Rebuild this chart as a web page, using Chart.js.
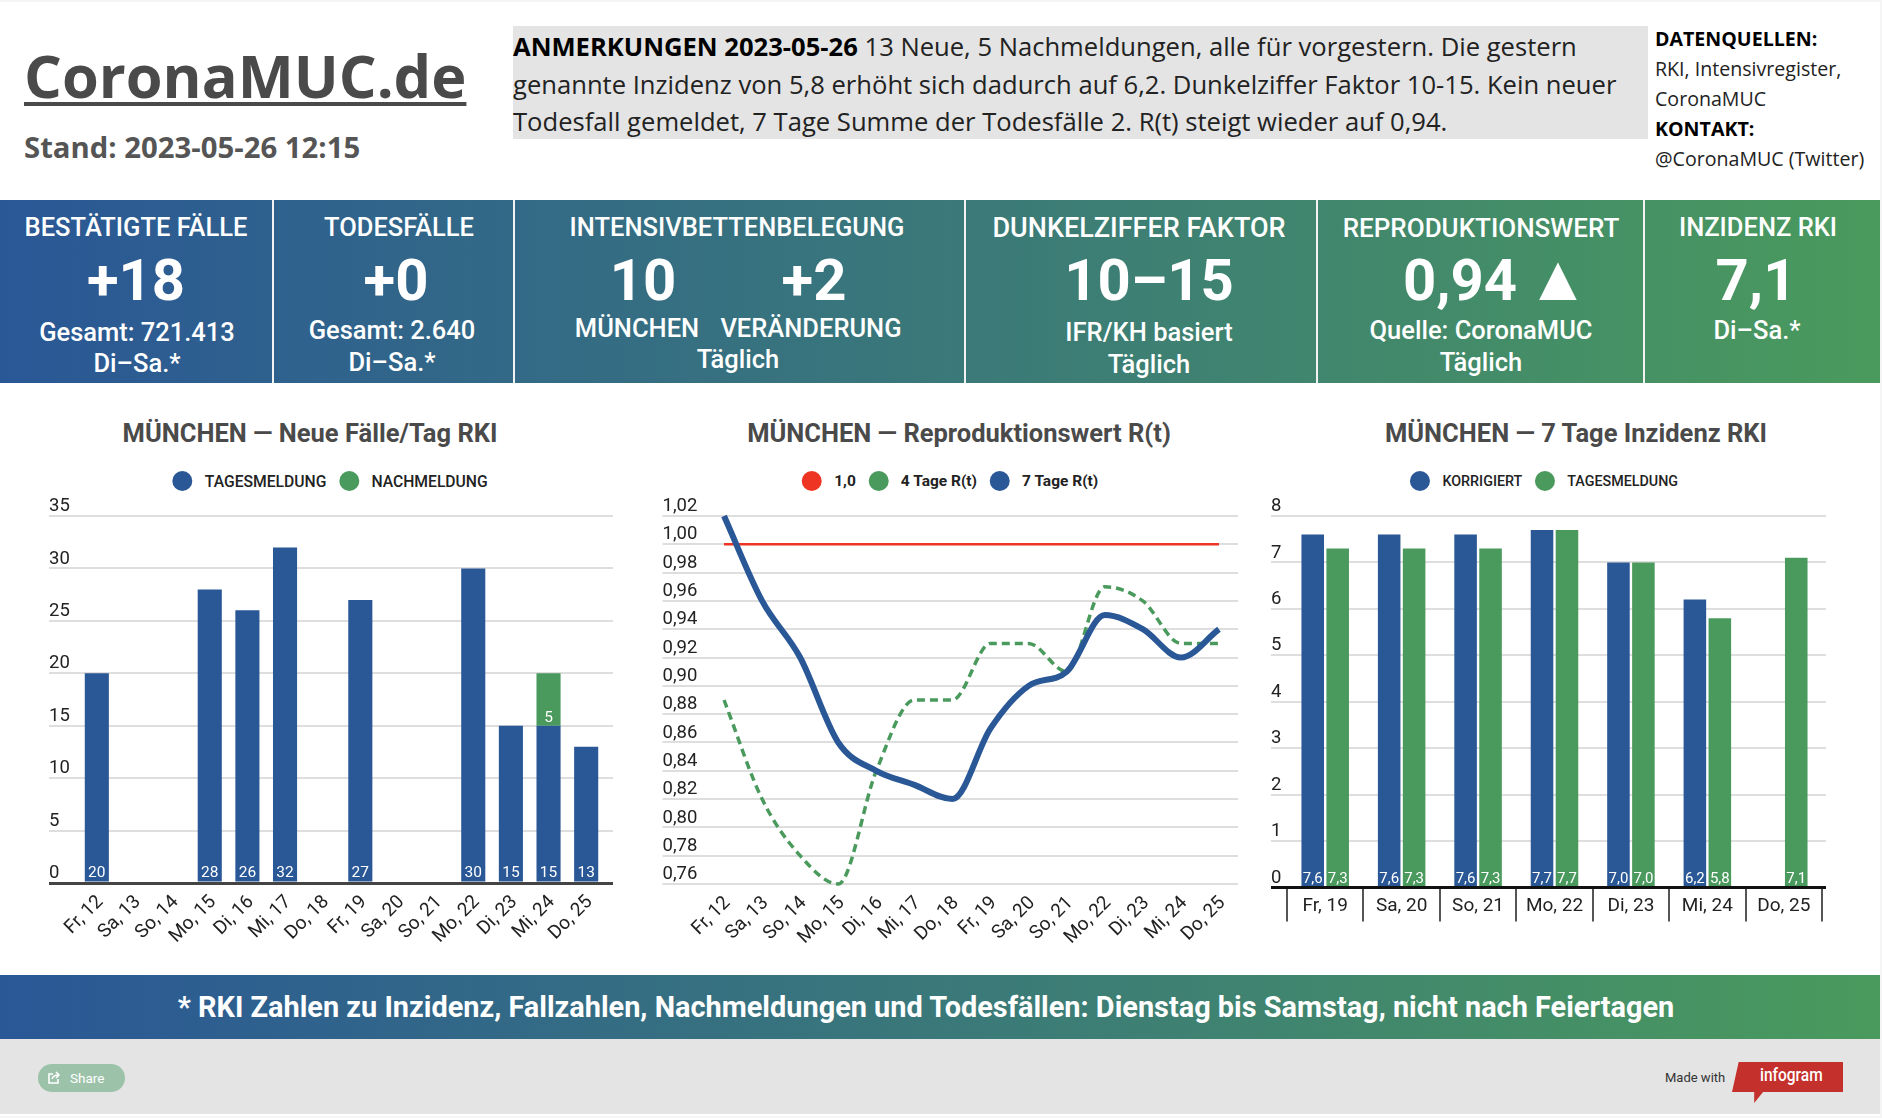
<!DOCTYPE html>
<html lang="de">
<head>
<meta charset="utf-8">
<title>CoronaMUC.de</title>
<script src="https://cdn.jsdelivr.net/npm/chart.js@4"></script>
<style>
  html, body { margin: 0; padding: 0; background: #f5f5f5; }
  #page { position: relative; width: 1880px; height: 1114px; margin-top: 2px; background: #fff; overflow: hidden; font-family: Roboto, sans-serif; }
  .abs { position: absolute; white-space: nowrap; }
  .c { position: absolute; white-space: nowrap; transform: translate(-50%, -50%); color: #fff; }
  .ttl { font-size: 25.5px; font-weight: 500; }
  .big { font-size: 58px; font-weight: 700; }
  .sub { font-size: 25.5px; font-weight: 500; }
  #panels { position: absolute; left: 0; top: 198px; width: 1880px; height: 183px; background: linear-gradient(90deg, #2a5796, #4a9a5d); }
  .sep { position: absolute; top: 0; width: 2px; height: 183px; background: #f2f2f2; }
  #band { position: absolute; left: 0; top: 973px; width: 1880px; height: 64px; background: linear-gradient(90deg, #2a5796, #4a9a5d); }
  #foot { position: absolute; left: 0; top: 1037px; width: 1880px; height: 75px; background: #e4e4e4; }
  canvas { position: absolute; }
  .chart-title { position: absolute; top: 414px; transform: translateX(-50%); font-size: 25.5px; font-weight: 700; color: #4a4a4a; white-space: nowrap; line-height: 34px; }
  .legend { position: absolute; top: 469px; transform: translateX(-50%); display: flex; align-items: center; height: 20px; white-space: nowrap; color: #222; font-weight: 500; }
  .legend i { display: block; width: 20px; height: 20px; border-radius: 50%; margin-right: 12.5px; }
  .legend span { margin-right: 12.5px; }
  .legend span:last-child { margin-right: 0; }
</style>
</head>
<body>
<div id="page">
  <div class="abs" style="left:24px;top:33px;font:700 59.5px/80px 'Open Sans';color:#4a4a4a;text-decoration:underline;text-decoration-thickness:4px;text-underline-offset:4px;">CoronaMUC.de</div>
  <div class="abs" style="left:24px;top:125px;font:700 29.3px/40px 'Open Sans';color:#555;">Stand: 2023-05-26 12:15</div>
  <div class="abs" style="left:513px;top:24px;width:1135px;height:113px;background:#e4e4e4;"></div>
  <div class="abs" style="left:513px;top:26px;font:400 25.6px/37.5px 'Open Sans';color:#222;"><b style="color:#000">ANMERKUNGEN 2023-05-26</b> 13 Neue, 5 Nachmeldungen, alle für vorgestern. Die gestern<br>genannte Inzidenz von 5,8 erhöht sich dadurch auf 6,2. Dunkelziffer Faktor 10-15. Kein neuer<br>Todesfall gemeldet, 7 Tage Summe der Todesfälle 2. R(t) steigt wieder auf 0,94.</div>
  <div class="abs" style="left:1655px;top:22px;font:400 19.6px/30px 'Open Sans';color:#222;"><b style="color:#000">DATENQUELLEN:</b><br>RKI, Intensivregister,<br>CoronaMUC<br><b style="color:#000">KONTAKT:</b><br>@CoronaMUC (Twitter)</div>

  <div id="panels">
    <div class="sep" style="left:272px"></div><div class="sep" style="left:513px"></div><div class="sep" style="left:964px"></div><div class="sep" style="left:1316px"></div><div class="sep" style="left:1643px"></div>
    <div class="c ttl" style="left:136px;top:27px">BESTÄTIGTE FÄLLE</div>
    <div class="c big" style="left:136px;top:80px">+18</div>
    <div class="c sub" style="left:137px;top:132px">Gesamt: 721.413</div>
    <div class="c sub" style="left:137px;top:163px">Di–Sa.*</div>
    <div class="c ttl" style="left:399px;top:27px">TODESFÄLLE</div>
    <div class="c big" style="left:396px;top:80px">+0</div>
    <div class="c sub" style="left:392px;top:130px">Gesamt: 2.640</div>
    <div class="c sub" style="left:392px;top:162px">Di–Sa.*</div>
    <div class="c ttl" style="left:737px;top:27px">INTENSIVBETTENBELEGUNG</div>
    <div class="c big" style="left:643px;top:80px">10</div>
    <div class="c big" style="left:814px;top:80px">+2</div>
    <div class="c sub" style="left:637px;top:128px">MÜNCHEN</div>
    <div class="c sub" style="left:811px;top:128px">VERÄNDERUNG</div>
    <div class="c sub" style="left:738px;top:159px">Täglich</div>
    <div class="c ttl" style="left:1139px;top:28px;font-size:27px">DUNKELZIFFER FAKTOR</div>
    <div class="c big" style="left:1149px;top:80px">10–15</div>
    <div class="c sub" style="left:1149px;top:132px">IFR/KH basiert</div>
    <div class="c sub" style="left:1149px;top:164px">Täglich</div>
    <div class="c ttl" style="left:1481px;top:28px;font-size:26px">REPRODUKTIONSWERT</div>
    <div class="c big" style="left:1460px;top:80px">0,94</div>
    <div class="c big" style="left:1558px;top:78px;font-size:64px">▲</div>
    <div class="c sub" style="left:1481px;top:130px">Quelle: CoronaMUC</div>
    <div class="c sub" style="left:1481px;top:162px">Täglich</div>
    <div class="c ttl" style="left:1758px;top:27px">INZIDENZ RKI</div>
    <div class="c big" style="left:1756px;top:80px">7,1</div>
    <div class="c sub" style="left:1757px;top:130px">Di–Sa.*</div>
  </div>

  <div class="chart-title" style="left:310px">MÜNCHEN — Neue Fälle/Tag RKI</div>
  <div class="chart-title" style="left:959px">MÜNCHEN — Reproduktionswert R(t)</div>
  <div class="chart-title" style="left:1576px">MÜNCHEN — 7 Tage Inzidenz RKI</div>
  <div class="legend" id="legendCases" style="left:330px;font-size:15.7px"></div>
  <div class="legend" id="legendRt" style="left:950px;font-size:15.5px;font-weight:700"></div>
  <div class="legend" id="legendInz" style="left:1544px;font-size:14.3px"></div>

  <canvas id="casesChart" width="640" height="500" style="left:0;top:478px"></canvas>
  <canvas id="rtChart" width="620" height="500" style="left:640px;top:478px"></canvas>
  <canvas id="inzChart" width="620" height="500" style="left:1260px;top:478px"></canvas>

  <div id="band"><div class="c" style="left:926px;top:32px;font-size:28.9px;font-weight:700">* RKI Zahlen zu Inzidenz, Fallzahlen, Nachmeldungen und Todesfällen: Dienstag bis Samstag, nicht nach Feiertagen</div></div>
  <div id="foot">
    <div class="abs" style="left:38px;top:25px;width:87px;height:28px;border-radius:14px;background:#9cc3a9;color:#fff;font-size:13.5px;line-height:28px;text-indent:32px;">Share</div>
    <svg class="abs" style="left:48px;top:32px" width="14" height="13" viewBox="0 0 14 13" fill="none" stroke="#fff" stroke-width="1.6"><path d="M5 3H1v9h9V8"/><path d="M4 8c1-3 3-4 6-4M8 1l3 3-3 3"/></svg>
    <div class="abs" style="left:1665px;top:31px;font-size:13px;color:#333;">Made with</div>
    <div class="abs" style="left:1732px;top:23px;width:111px;height:41px;background:#c4302b;clip-path:polygon(6% 0,100% 0,100% 73%,28% 73%,20% 100%,20% 73%,0 73%);"></div>
    <div class="abs" style="left:1760px;top:21px;color:#fff;font:500 18px/30px Roboto;transform:scaleX(.86);transform-origin:0 0;">infogram</div>
  </div>
</div>

<script>
const DAYS_LONG = ["Fr, 12", "Sa, 13", "So, 14", "Mo, 15", "Di, 16", "Mi, 17", "Do, 18", "Fr, 19", "Sa, 20", "So, 21", "Mo, 22", "Di, 23", "Mi, 24", "Do, 25"];
const DAYS_WEEK = ["Fr, 19", "Sa, 20", "So, 21", "Mo, 22", "Di, 23", "Mi, 24", "Do, 25"];

const casesDaily = [20, null, null, 28, 26, 32, null, 27, null, null, 30, 15, 15, 13];
const casesLate = [null, null, null, null, null, null, null, null, null, null, null, null, 5, null];

const rtOne = [1, 1, 1, 1, 1, 1, 1, 1, 1, 1, 1, 1, 1, 1];
const rtFour = [0.89, 0.82, 0.78, 0.76, 0.84, 0.89, 0.89, 0.93, 0.93, 0.91, 0.97, 0.96, 0.93, 0.93];
const rtSeven = [1.02, 0.96, 0.92, 0.86, 0.84, 0.83, 0.82, 0.87, 0.90, 0.91, 0.95, 0.94, 0.92, 0.94];

const inzCorrected = [7.6, 7.6, 7.6, 7.7, 7.0, 6.2, null];
const inzDaily = [7.3, 7.3, 7.3, 7.7, 7.0, 5.8, 7.1];

const BLUE = "#2a5796";
const GREEN = "#4a9a5d";
const RED = "#ee3524";
const GRID = "#dedede";

Chart.defaults.font.family = "Roboto";
Chart.defaults.animation = false;

const comma = (v, digits) => v.toFixed(digits).replace(".", ",");

// white value at the foot of each bar segment
const barValues = {
    id: "barValues",
    afterDatasetsDraw(chart, args, opts) {
        if (!opts.show) return;
        const ctx = chart.ctx;
        ctx.save();
        ctx.fillStyle = "#fff";
        ctx.textAlign = "center";
        ctx.textBaseline = "middle";
        ctx.font = opts.size + "px Roboto";
        chart.data.datasets.forEach((ds, i) => {
            chart.getDatasetMeta(i).data.forEach((bar, j) => {
                if (ds.data[j] == null) return;
                ctx.fillText(opts.format(ds.data[j]), bar.x, bar.base - opts.lift);
            });
        });
        ctx.restore();
    }
};

function htmlLegend(chart, id) {
    const box = document.getElementById(id);
    const items = Chart.defaults.plugins.legend.labels.generateLabels(chart);
    items.sort((a, b) => a.datasetIndex - b.datasetIndex);
    items.forEach(item => {
        const dot = document.createElement("i");
        dot.style.background = item.fillStyle;
        const txt = document.createElement("span");
        txt.textContent = item.text;
        box.append(dot, txt);
    });
}

function yScales(min, max, step, leftWidth, rightWidth, format, zeroColor) {
    const color = c => (zeroColor && c.tick.value === 0) ? zeroColor : GRID;
    const width = c => (zeroColor && c.tick.value === 0) ? 3 : 2;
    const scales = {
        y: {
            min, max, position: "left",
            border: { display: false },
            grid: { color, lineWidth: width, tickLength: leftWidth },
            ticks: { stepSize: step, crossAlign: "far", padding: 0, labelOffset: -9.5, color: "#222", font: { size: 18.5 }, autoSkip: false, callback: format },
            afterFit: s => { s.width = leftWidth; }
        }
    };
    if (rightWidth) {
        scales.yEnd = {
            min, max, position: "right",
            border: { display: false },
            grid: { color, lineWidth: width, tickLength: rightWidth, drawOnChartArea: false },
            ticks: { stepSize: step, display: false },
            afterFit: s => { s.width = rightWidth; }
        };
    }
    return scales;
}

const rotatedX = {
    grid: { display: false },
    border: { display: false },
    ticks: { maxRotation: 45, minRotation: 45, autoSkip: false, color: "#222", font: { size: 19 }, padding: 0, labelOffset: 3.5 },
    afterFit: s => { s.height = 60; }
};

const casesChart = new Chart(document.getElementById("casesChart"), {
    type: "bar",
    plugins: [barValues],
    data: {
        labels: DAYS_LONG,
        datasets: [
            { label: "TAGESMELDUNG", data: casesDaily, backgroundColor: BLUE, categoryPercentage: 0.64, barPercentage: 1 },
            { label: "NACHMELDUNG", data: casesLate, backgroundColor: GREEN, categoryPercentage: 0.64, barPercentage: 1 }
        ]
    },
    options: {
        responsive: false,
        layout: { padding: { left: 49, right: 27, top: 36, bottom: 37 } },
        plugins: {
            legend: { display: false },
            tooltip: { enabled: false },
            barValues: { show: true, size: 15.5, lift: 8, format: v => String(v) }
        },
        scales: {
            x: { ...rotatedX, stacked: true },
            ...yScales(0, 35, 5, 29, 8, v => v, "#444"),
        }
    }
});
casesChart.options.scales.y.stacked = true;
casesChart.update();
htmlLegend(casesChart, "legendCases");

const rtChart = new Chart(document.getElementById("rtChart"), {
    type: "line",
    data: {
        labels: DAYS_LONG,
        datasets: [
            { label: "1,0", data: rtOne, borderColor: RED, backgroundColor: RED, borderWidth: 2.5, pointRadius: 0, order: 3 },
            { label: "4 Tage R(t)", data: rtFour, borderColor: GREEN, backgroundColor: GREEN, borderWidth: 3.5, borderDash: [8, 5], pointRadius: 0, cubicInterpolationMode: "monotone", order: 2, clip: false },
            { label: "7 Tage R(t)", data: rtSeven, borderColor: BLUE, backgroundColor: BLUE, borderWidth: 6, pointRadius: 0, cubicInterpolationMode: "monotone", order: 1, clip: false }
        ]
    },
    options: {
        responsive: false,
        layout: { padding: { left: 22.5, right: 22, top: 36, bottom: 36 } },
        plugins: { legend: { display: false }, tooltip: { enabled: false } },
        scales: {
            x: { ...rotatedX, offset: true },
            ...yScales(0.76, 1.02, 0.02, 42.5, 0, v => comma(v, 2), null)
        }
    }
});
htmlLegend(rtChart, "legendRt");

const inzChart = new Chart(document.getElementById("inzChart"), {
    type: "bar",
    plugins: [barValues],
    data: {
        labels: DAYS_WEEK,
        datasets: [
            { label: "KORRIGIERT", data: inzCorrected, backgroundColor: BLUE, categoryPercentage: 0.653, barPercentage: 0.904 },
            { label: "TAGESMELDUNG", data: inzDaily, backgroundColor: GREEN, categoryPercentage: 0.653, barPercentage: 0.904 }
        ]
    },
    options: {
        responsive: false,
        layout: { padding: { left: 11, right: 54, top: 36, bottom: 56.5 } },
        plugins: {
            legend: { display: false },
            tooltip: { enabled: false },
            barValues: { show: true, size: 15, lift: 7, format: v => comma(v, 1) }
        },
        scales: {
            x: {
                border: { display: false },
                grid: { drawOnChartArea: false, tickLength: 34, color: "#555", lineWidth: 2 },
                ticks: { maxRotation: 0, color: "#222", font: { size: 19 }, padding: -27 },
                afterFit: s => { s.height = 36; }
            },
            ...yScales(0, 8, 1, 16, 4, v => v, "#111")
        }
    }
});
htmlLegend(inzChart, "legendInz");
</script>
</body>
</html>
